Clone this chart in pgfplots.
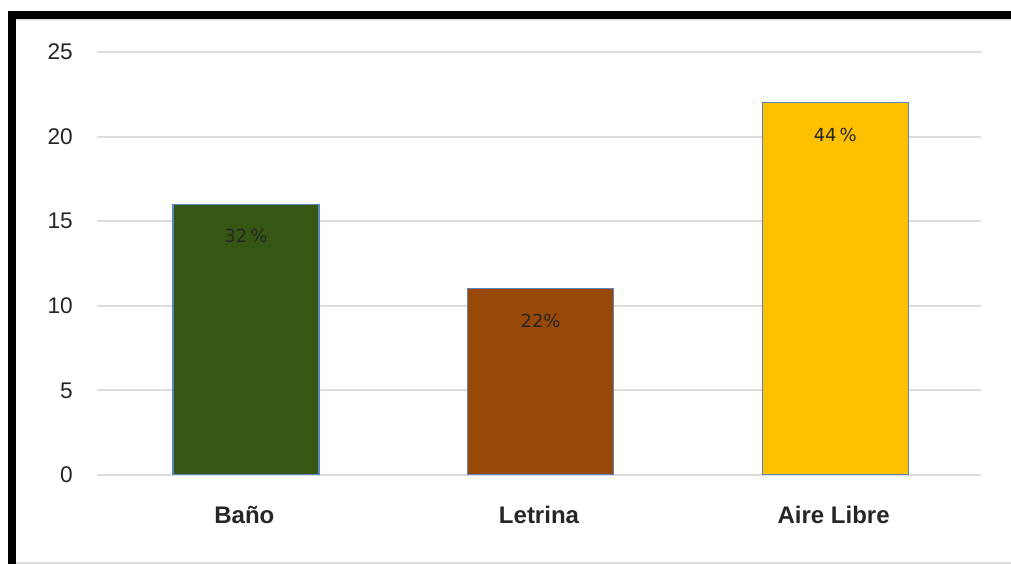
\documentclass[border=0pt]{standalone}
\usepackage{fontspec}
\setmainfont{Liberation Sans}
\newfontfamily\labfont{DejaVu Sans}
\usepackage{pgfplots}
\pgfplotsset{compat=1.18}
\definecolor{bgreen}{HTML}{365714}
\definecolor{bbrown}{HTML}{984807}
\definecolor{byellow}{HTML}{FFC000}
\definecolor{bedge}{HTML}{5B87C0}
\definecolor{gridc}{HTML}{DCDCDC}
\begin{document}
\begin{tikzpicture}
\useasboundingbox (0pt,0pt) rectangle (758.25pt,423pt);
\fill[black] (6pt,408.75pt) rectangle (758.25pt,414.75pt);
\fill[black] (6pt,0pt) rectangle (12pt,414.75pt);
\draw[gridc,line width=1.2pt] (12pt,0.9pt) -- (758.25pt,0.9pt);
\draw[gridc!70,line width=0.8pt] (12pt,408pt) -- (758.25pt,408pt);
\begin{axis}[
  at={(72.75pt,66.75pt)}, anchor=south west,
  scale only axis, width=663pt, height=317.25pt,
  xmin=-0.5, xmax=2.5, ymin=0, ymax=25,
  ytick={0,5,10,15,20,25},
  xtick={0,1,2},
  xticklabels={Baño,Letrina,Aire Libre},
  axis line style={draw=none},
  major tick length=0pt,
  ymajorgrids, grid style={gridc,line width=1.4pt},
  /pgf/number format/assume math mode=true,
  yticklabel style={font=\fontsize{17}{20}\selectfont, text=black!85, anchor=east, inner sep=0pt, xshift=-18pt},
  xticklabel style={font=\fontsize{18}{21}\selectfont\bfseries, text=black!85, anchor=base, inner sep=0pt, yshift=-36.5pt},
  ybar, bar width=109.5pt, bar shift=1.2pt,
  nodes near coords,
  every node near coord/.append style={font=\labfont\fontsize{13.5}{15}\selectfont, text=black!85, anchor=center, yshift=-24pt},
]
\addplot[fill=bgreen, draw=bedge, line width=0.9pt, nodes near coords={32\,\%}] coordinates {(0,16)};
\addplot[fill=bbrown, draw=bedge, line width=0.9pt, nodes near coords={22\%}] coordinates {(1,11)};
\addplot[fill=byellow, draw=bedge, line width=0.9pt, nodes near coords={44\,\%}] coordinates {(2,22)};
\end{axis}
\end{tikzpicture}
\end{document}
